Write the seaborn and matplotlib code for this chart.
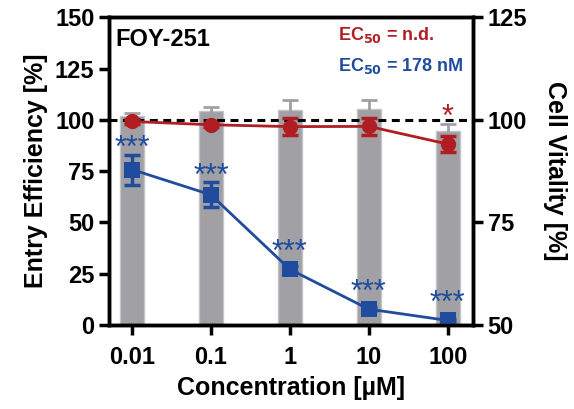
import matplotlib
matplotlib.use("Agg")
import matplotlib.pyplot as plt
import pandas as pd
import seaborn as sns

# data
concentrations = ["0.01", "0.1", "1", "10", "100"]
vitality = [100.9, 102.1, 102.5, 102.6, 97.2]      # bars, right axis [%]
vitality_err = [0.7, 1.0, 2.3, 2.2, 1.9]
entry_red = [99.2, 97.6, 96.7, 96.8, 88.2]          # left axis [%]
entry_red_err = [1.0, 1.0, 4.0, 4.0, 4.0]
entry_blue = [75.8, 63.5, 27.2, 7.8, 2.3]
entry_blue_err = [7.3, 6.0, 1.5, 1.0, 0.8]
blue_stars = ["***", "***", "***", "***", "***"]
red_stars = ["", "", "", "", "*"]

RED = "#B01E23"
BLUE = "#1F4C9E"
GRAY = "#A0A0A5"

sns.set_style("ticks")
plt.rcParams["font.family"] = ["Liberation Sans", "DejaVu Sans"]
plt.rcParams["font.weight"] = "bold"
for key in ["text.color", "axes.labelcolor", "xtick.color", "ytick.color",
            "axes.edgecolor"]:
    plt.rcParams[key] = "black"

df = pd.DataFrame({
    "conc": concentrations,
    "vitality": vitality,
    "red": entry_red,
    "blue": entry_blue,
})
pos = list(range(len(concentrations)))

fig, ax = plt.subplots(figsize=(5.74, 4.09), dpi=100)
fig.subplots_adjust(left=0.19, right=0.824, top=0.958, bottom=0.205)
ax2 = ax.twinx()

# bars on the right axis, drawn behind
sns.barplot(data=df, x="conc", y="vitality", ax=ax2, color=GRAY, width=0.30,
            edgecolor="#C4C4C8", linewidth=1, saturation=1, errorbar=None)
ax2.errorbar(pos, vitality, yerr=vitality_err, fmt="none", ecolor=GRAY,
             elinewidth=2, capsize=6, capthick=2)
ax2.set_ylim(50, 125)
ax2.set_yticks([50, 75, 100, 125])
ax2.set_zorder(0)
ax.set_zorder(1)
ax.patch.set_visible(False)

ax.axhline(100, color="black", lw=2.2, ls=(0, (2.6, 1.8)), zorder=1)

sns.lineplot(data=df, x="conc", y="red", ax=ax, color=RED, lw=2, marker="o",
             markersize=11, markeredgewidth=0, sort=False)
ax.errorbar(pos, entry_red, yerr=entry_red_err, fmt="none", ecolor=RED,
            elinewidth=2.5, capsize=6, capthick=2.5)
sns.lineplot(data=df, x="conc", y="blue", ax=ax, color=BLUE, lw=2, marker="s",
             markersize=11, markeredgewidth=0, sort=False)
ax.errorbar(pos, entry_blue, yerr=entry_blue_err, fmt="none", ecolor=BLUE,
            elinewidth=2.5, capsize=6, capthick=2.5)

# stars sit above whichever is higher: error cap or marker
for i, s in enumerate(blue_stars):
    top = entry_blue[i] + max(entry_blue_err[i], 5.5)
    ax.annotate(s, (i, top), xytext=(0, -7),
                textcoords="offset points", ha="center", va="bottom",
                color=BLUE, fontsize=22, fontweight="normal")
for i, s in enumerate(red_stars):
    if s:
        top = (vitality[i] + vitality_err[i] - 50) * 2
        ax.annotate(s, (i, top), xytext=(0, -7), textcoords="offset points",
                    ha="center", va="bottom", color=RED, fontsize=22,
                    fontweight="normal")

ax.set_xlim(-0.29, 4.32)
ax.set_ylim(0, 150)
ax.set_yticks([0, 25, 50, 75, 100, 125, 150])
ax.set_xlabel("Concentration [µM]", fontsize=18, fontweight="bold", labelpad=5)
ax.set_ylabel("Entry Efficiency [%]", fontsize=18, fontweight="bold", labelpad=5)
ax2.set_ylabel("Cell Vitality [%]", fontsize=18, fontweight="bold",
               rotation=270, labelpad=29)

for a in (ax, ax2):
    for sp in a.spines.values():
        sp.set_linewidth(2.5)
    a.tick_params(width=2.5, length=7, labelsize=17)
    for lab in a.get_xticklabels() + a.get_yticklabels():
        lab.set_fontweight("bold")
ax.tick_params(axis="x", pad=8)

ax.text(0.018, 0.965, "FOY-251", transform=ax.transAxes, fontsize=17,
        fontweight="bold", va="top", ha="left")
ax.text(0.628, 0.975, "EC$_{\\mathbf{50}}$ = n.d.", transform=ax.transAxes,
        fontsize=13, fontweight="bold", color=RED, va="top", ha="left")
ax.text(0.628, 0.875, "EC$_{\\mathbf{50}}$ = 178 nM", transform=ax.transAxes,
        fontsize=13, fontweight="bold", color=BLUE, va="top", ha="left")

fig.savefig("out.png", dpi=100)
